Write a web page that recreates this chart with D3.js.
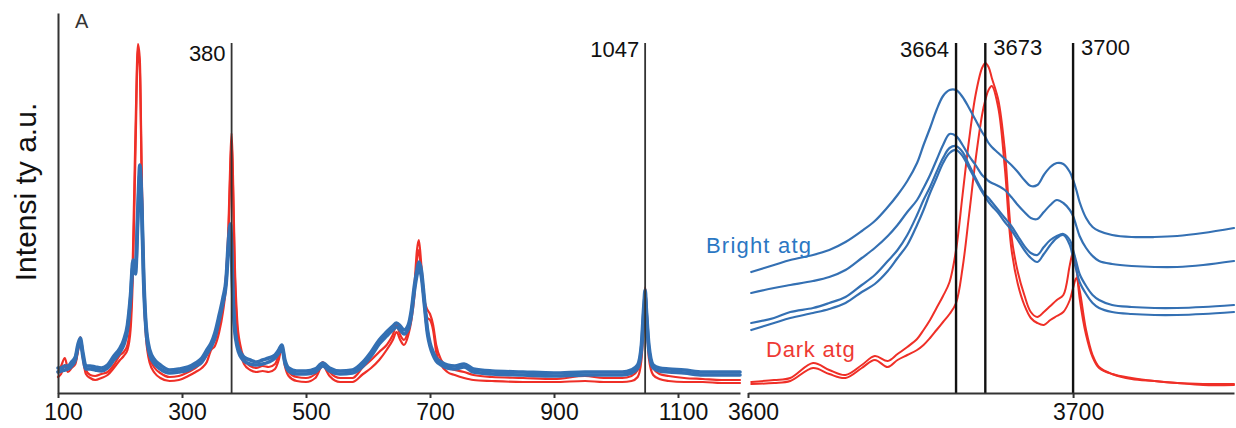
<!DOCTYPE html>
<html><head><meta charset="utf-8">
<script src="https://cdn.jsdelivr.net/npm/d3@7/dist/d3.min.js"></script>
<style>
html,body{margin:0;padding:0;background:#fff;}
svg{display:block;font-family:"Liberation Sans",Arial,Helvetica,sans-serif;}
</style></head>
<body><svg id="c" width="1236" height="428"></svg>
<script>
// ---------- Left panel (Raman, 100-1200 cm-1) ----------
const wnLeft = [100,105,111,116,122,128,132,136,140,145,152,160,170,180,190,200,206,212,217,221,225,229,232,235,238,242,248,256,265,280,295,310,322,332,340,347,353,360,366,371,375,378,380,382,385,389,394,400,410,420,430,440,450,456,461,466,472,485,500,515,527,538,555,575,592,605,618,630,640,646,652,658,665,670,675,679,682,686,691,696,700,705,710,718,728,740,755,770,800,850,900,950,980,1010,1025,1035,1041,1045,1047,1049,1053,1060,1070,1085,1110,1140,1170,1200];
const darkLeft1 = [21,27,35,25,27,31,43,56,38,23,18,17,19,21,28,38,41,48,73,143,263,349,333,223,123,63,35,25,20,16,17,21,25,31,38,48,53,68,88,118,168,233,260,223,133,73,48,35,27,25,27,26,29,38,48,31,21,16,15,19,31,21,15,15,26,33,41,48,58,68,58,53,63,78,108,143,153,128,93,83,79,68,48,33,26,23,21,18,16,15,14,17,15,15,17,23,43,83,106,88,43,25,19,17,15,14,13,13];
const darkLeft2 = [16,19,28,21,25,29,41,53,35,19,15,13,15,18,25,33,37,43,63,123,243,345,323,213,113,55,30,20,15,12,13,17,21,25,31,43,47,61,81,108,158,223,253,213,123,65,41,29,23,21,22,21,24,33,45,27,17,12,11,15,27,17,11,11,19,25,33,43,53,61,53,48,58,73,98,133,143,118,88,75,73,63,41,28,21,18,15,13,12,11,11,12,11,11,12,16,33,73,98,78,35,18,14,12,11,11,10,10];
const brightLeft1 = [25,25,27,27,31,36,48,55,41,27,27,26,25,28,37,45,53,68,98,133,125,188,228,193,123,68,43,33,28,23,24,26,30,35,43,50,60,78,95,113,153,169,148,103,68,50,41,36,33,31,33,35,38,43,48,33,25,22,22,24,30,25,22,23,31,41,53,61,67,70,67,63,68,83,108,123,131,123,93,63,50,41,35,31,28,27,29,24,22,21,20,21,21,21,23,28,48,88,103,83,48,28,25,24,23,21,21,21];
const brightLeft2 = [21,22,23,24,27,33,45,52,37,24,24,23,22,25,33,41,48,63,93,127,119,178,218,183,113,63,38,29,24,20,21,23,27,31,39,46,55,73,90,108,143,161,141,95,63,46,37,32,29,28,29,31,35,40,45,30,22,19,19,21,27,22,19,20,27,37,49,57,63,66,63,59,64,78,103,118,125,117,88,59,47,38,32,28,25,24,26,21,19,18,17,18,18,18,20,25,43,81,97,78,43,25,22,21,20,18,18,18];
const ticksLeft = [100,300,500,700,900,1100];
const marksLeft = ["380","1047"];

// ---------- Right panel (OH stretching, 3600-3750 cm-1) ----------
const wnRight = [3601,3608,3613,3620,3625,3630,3635,3639,3643,3646,3649,3652,3654,3656,3658,3660,3662,3664,3666,3668,3670,3672,3673,3674,3675,3677,3679,3681,3683,3685,3687,3689,3691,3693,3695,3697,3699,3700,3701,3702,3704,3706,3708,3712,3718,3725,3732,3740,3749.5];
const brightRightA = [121,128,133,138,143,151,162,172,186,198,212,230,248,265,283,297,303,303,296,285,273,261,256,250,246,240,234,228,221,213,207,208,218,226,230,229,221,213,203,191,175,166,162,158,156,156,157,160,165];
const brightRightB = [100,105,108,112,116,123,135,145,157,168,181,193,205,218,233,248,259,257,248,237,228,218,215,212,210,207,203,196,188,181,175,174,181,188,193,190,183,177,167,157,145,137,132,129,127,126,126,128,132];
const brightRightC = [70,75,81,85,90,96,108,118,132,143,158,178,193,206,221,235,245,247,241,228,215,203,198,195,191,183,175,167,157,147,140,138,146,153,157,159,153,143,131,119,107,98,93,88,86,85,85,86,88];
const brightRightD = [63,70,75,80,84,90,101,109,122,135,148,168,183,200,215,230,240,243,237,225,213,201,196,191,187,180,171,163,153,143,135,131,139,148,155,158,148,135,123,111,99,90,85,81,79,78,78,79,81];
const darkRightE = [11,13,15,30,23,18,28,37,32,39,46,54,63,73,85,97,111,143,198,253,298,325,330,326,315,293,243,158,121,98,81,76,81,87,93,98,128,141,125,95,58,36,25,19,15,12,10,9,9];
const darkRightF = [9,10,12,25,19,15,25,33,26,33,38,43,48,55,63,71,79,90,125,178,233,278,293,303,307,285,225,145,109,88,75,70,68,73,77,81,93,105,115,103,63,38,26,19,14,12,10,8,8];
const ticksRight = [3600,3700];
const marksRight = ["3664","3673","3700"];

const seriesLabels = ["Bright atg","Dark atg"];
const axisTitle = "Intensi ty a.u.";
const panelLetter = "A";

// ---------- drawing ----------
const RED = "#ef2f27", BLUE = "#3470b3";
const svg = d3.select("#c");

const xL = d3.scaleLinear().domain([100,1200]).range([58,740]);
const xR = d3.scaleLinear().domain([3600,3749.5]).range([748,1234]);
const y = d3.scaleLinear().domain([0,380]).range([393,13]);

function drawLines(xs, wn, list, curve){
  list.forEach(s=>{
    const line = d3.line().x((d,i)=>xs(wn[i])).y(d=>y(d)).curve(curve);
    svg.append("path").datum(s.v).attr("d",line)
      .attr("fill","none").attr("stroke",s.c).attr("stroke-width",s.w)
      .attr("stroke-linejoin","round").attr("stroke-linecap","round");
  });
}

drawLines(xL, wnLeft, [
  {v:darkLeft2,c:RED,w:2.2},
  {v:darkLeft1,c:RED,w:2.2},
  {v:brightLeft2,c:BLUE,w:3.6},
  {v:brightLeft1,c:BLUE,w:3.6}
], d3.curveMonotoneX);

drawLines(xR, wnRight, [
  {v:darkRightF,c:RED,w:2},
  {v:darkRightE,c:RED,w:2},
  {v:brightRightD,c:BLUE,w:2.2},
  {v:brightRightC,c:BLUE,w:2.2},
  {v:brightRightB,c:BLUE,w:2.2},
  {v:brightRightA,c:BLUE,w:2.2}
], d3.curveCatmullRom.alpha(0.5));

// marker lines
marksLeft.forEach(m=>{
  const xx = xL(+m);
  svg.append("line").attr("x1",xx).attr("x2",xx).attr("y1",y(350)).attr("y2",y(0))
    .attr("stroke","#333").attr("stroke-width",1.8);
  svg.append("text").attr("x",xx-6).attr("y", m==="380"?61:57).attr("text-anchor","end")
    .attr("font-size",22).attr("fill","#111").text(m);
});
marksRight.forEach(m=>{
  const xx = xR(+m);
  svg.append("line").attr("x1",xx).attr("x2",xx).attr("y1",y(350)).attr("y2",y(0))
    .attr("stroke","#111").attr("stroke-width",2.4);
  const left = m==="3664";
  svg.append("text").attr("x", left? xx-7 : xx+8).attr("y", left?57:55)
    .attr("text-anchor", left?"end":"start")
    .attr("font-size",22).attr("fill","#111").text(m);
});

// axes
const axL = svg.append("g").attr("transform","translate(0,393)")
  .call(d3.axisBottom(xL).tickValues(ticksLeft).tickSizeInner(5).tickSizeOuter(0).tickPadding(6).tickFormat(d3.format("d")));
const axR = svg.append("g").attr("transform","translate(0,393)")
  .call(d3.axisBottom(xR).tickValues(ticksRight).tickSizeInner(5).tickSizeOuter(0).tickPadding(6).tickFormat(d3.format("d")));
const axY = svg.append("g").attr("transform","translate(58,0)")
  .call(d3.axisLeft(y).tickValues([]).tickSizeOuter(0));
[axL,axR,axY].forEach(g=>{
  g.select(".domain").attr("stroke","#333").attr("stroke-width",2);
  g.selectAll(".tick line").attr("stroke","#333").attr("stroke-width",2);
  g.selectAll(".tick text").attr("font-size",23).attr("fill","#111").attr("dx",5)
    .attr("font-family","'Liberation Sans',Arial,sans-serif");
});

// texts
svg.append("text").attr("transform","translate(36,192) rotate(-90)")
  .attr("text-anchor","middle").attr("font-size",30).attr("fill","#111").text(axisTitle);
svg.append("text").attr("x",75).attr("y",28).attr("font-size",20).attr("fill","#333").text(panelLetter);
svg.append("text").attr("x",706).attr("y",253).attr("font-size",22).attr("letter-spacing",1.2)
  .attr("fill","#2b77c3").text(seriesLabels[0]);
svg.append("text").attr("x",766).attr("y",357).attr("font-size",22).attr("letter-spacing",0.8)
  .attr("fill","#ee3a34").text(seriesLabels[1]);
</script>
</body></html>
